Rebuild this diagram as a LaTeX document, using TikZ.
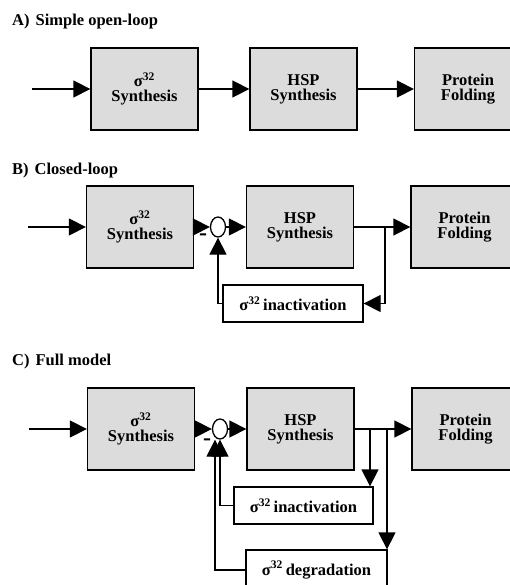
\documentclass[tikz,border=0pt]{standalone}
\usepackage{fontspec}
\setmainfont{Liberation Serif}
\usetikzlibrary{arrows.meta,shapes.geometric}
\definecolor{boxgray}{RGB}{220,220,220}
\newcommand\sigtt{σ\textsuperscript{32}}
\begin{document}
\begin{tikzpicture}[x=1pt,y=-1pt,
  txt/.style={font=\bfseries\fontsize{16.5}{14}\selectfont},
  blk/.style={txt, draw, line width=1.3pt, fill=boxgray, minimum width=107pt,
    minimum height=82pt, inner sep=0pt, align=center},
  fbk/.style={txt, draw, line width=1.3pt, fill=white, minimum height=37pt, inner sep=0pt},
  sumpt/.style={draw, ellipse, line width=1.3pt, fill=white, minimum width=15pt,
    minimum height=20pt, inner sep=0pt},
  wire/.style={line width=1.3pt},
  arr/.style={wire, -{Triangle[length=17pt,width=17pt]}},
  ttl/.style={txt, anchor=base west, inner sep=0pt},
  minus/.style={font=\bfseries\fontsize{24}{24}\selectfont, inner sep=0pt}]
\clip (0,0) rectangle (510,585);

% ---------- A) open loop ----------
\node[ttl] (ta) at (12,26) {A)\hspace{6pt}Simple open-loop};
\node[blk] (a1) at (144.5,89) {\sigtt\\[1pt]Synthesis};
\node[blk] (a2) at (303.5,89) {HSP\\[1pt]Synthesis};
\node[blk] (a3) at (468,89) {Protein\\[1pt]Folding};
\coordinate (ain) at (32,89);
\draw[arr] (ain) -- (a1);
\draw[arr] (a1) -- (a2);
\draw[arr] (a2) -- (a3);

% ---------- B) closed loop ----------
\node[ttl] (tb) at (12,175) {B)\hspace{6pt}Closed-loop};
\node[blk] (b1) at (140,227) {\sigtt\\[1pt]Synthesis};
\node[sumpt] (bs) at (218,227) {};
\node[blk] (b2) at (300,227) {HSP\\[1pt]Synthesis};
\node[blk] (b3) at (464.5,227) {Protein\\[1pt]Folding};
\node[fbk, minimum width=140pt] (bi) at (293,303.5) {\sigtt\,inactivation};
\node[minus] (bm) at (203,237) {-};
\coordinate (bin) at (28,227);
\coordinate (bj) at (385,227);
\draw[arr] (bin) -- (b1);
\draw[arr] (b1) -- (bs);
\draw[arr] (bs) -- (b2);
\draw[wire] (b2.east) -- (bj);
\draw[arr] (bj) -- (b3);
\draw[arr] (bj) |- (bi.east);
\draw[arr] (bi.west) -| (bs.south);

% ---------- C) full model ----------
\node[ttl] (tc) at (12,365) {C)\hspace{6pt}Full model};
\node[blk] (c1) at (141,429) {\sigtt\\[1pt]Synthesis};
\node[sumpt] (cs) at (220,429) {};
\node[blk] (c2) at (300.5,429) {HSP\\[1pt]Synthesis};
\node[blk] (c3) at (465.5,429) {Protein\\[1pt]Folding};
\node[fbk, minimum width=139pt] (ci) at (303.5,505.5) {\sigtt\,inactivation};
\node[fbk, minimum width=141pt, minimum height=40pt] (cd) at (316.5,570) {\sigtt\,degradation};
\node[minus] (cm) at (207,442) {-};
\coordinate (cin) at (29,429);
\coordinate (cj1) at (370,429);
\coordinate (cj2) at (387,429);
\draw[arr] (cin) -- (c1);
\draw[arr] (c1) -- (cs);
\draw[arr] (cs) -- (c2);
\draw[wire] (c2.east) -- (cj2);
\draw[arr] (cj2) -- (c3);
\draw[arr] (cj1) -- (cj1 |- ci.north);
\draw[arr] (cj2) -- (cj2 |- cd.north);
\draw[arr] (ci.west) -| (cs.south);
\draw[arr] (cd.west) -| ([xshift=-5pt]cs.south);
\end{tikzpicture}
\end{document}
